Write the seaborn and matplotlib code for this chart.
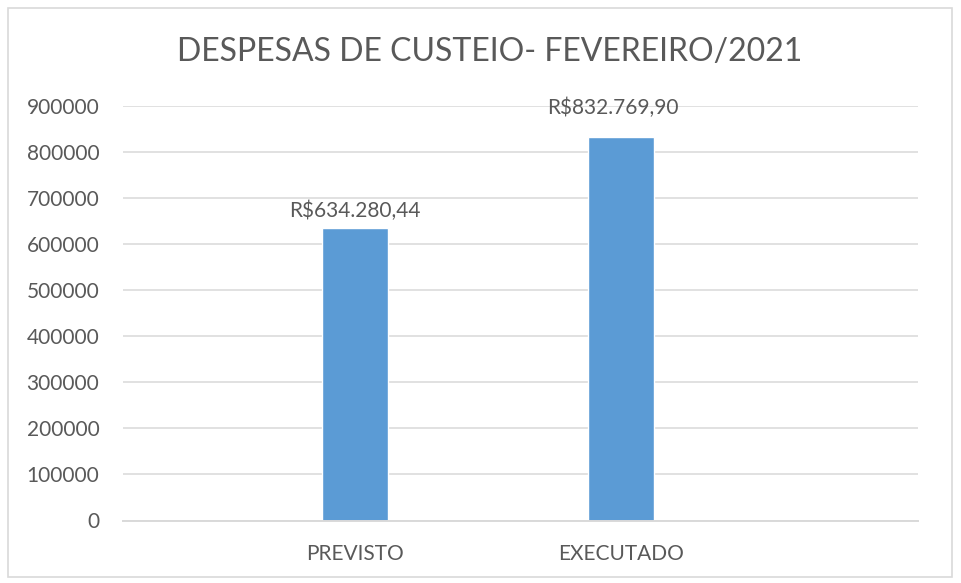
import matplotlib
matplotlib.use('Agg')
import matplotlib.pyplot as plt
import seaborn as sns
import pandas as pd
from matplotlib.patches import Rectangle

# Data
categorias = ['PREVISTO', 'EXECUTADO']
valores = [634280.44, 832769.90]
rotulos = ['R$634.280,44', 'R$832.769,90']
yticks = [0, 100000, 200000, 300000, 400000, 500000, 600000, 700000, 800000, 900000]

sns.set_style('white')
plt.rcParams['font.family'] = ['Lato', 'DejaVu Sans']

cinza_texto = '#595959'
cinza_linha = '#D9D9D9'
azul = '#5B9BD5'

df = pd.DataFrame({'categoria': categorias, 'valor': valores})

fig = plt.figure(figsize=(9.61, 5.83), dpi=100)
ax = fig.add_axes([123/961, 1 - 520.5/583, (918 - 123)/961, (520.5 - 105.5)/583])

sns.barplot(data=df, x='categoria', y='valor', color=azul, width=0.248,
            saturation=1, ax=ax, zorder=3)

ax.set_xlim(-0.872, 2.117)
ax.set_ylim(0, 900000)
ax.set_yticks(yticks)
ax.set_yticklabels([str(v) for v in yticks])
ax.set_xlabel('')
ax.set_ylabel('')

ax.yaxis.grid(True, color=cinza_linha, linewidth=1.1, zorder=0)
ax.set_axisbelow(True)
for s in ['top', 'right', 'left']:
    ax.spines[s].set_visible(False)
ax.spines['bottom'].set_color(cinza_linha)
ax.spines['bottom'].set_linewidth(1.4)
ax.spines['bottom'].set_zorder(4)

ax.tick_params(axis='y', length=0, pad=17, labelsize=15, labelcolor=cinza_texto)
ax.tick_params(axis='x', length=0, pad=17, labelsize=15, labelcolor=cinza_texto)

# data labels (positions slightly adjusted as in the original)
offsets = [(0, 17), (-8, 29)]
for i, (v, txt) in enumerate(zip(valores, rotulos)):
    ax.annotate(txt, xy=(i, v), xytext=offsets[i], textcoords='offset pixels',
                ha='center', va='center', fontsize=15, color=cinza_texto)

fig.text(490/961, 1 - 52/583, 'DESPESAS DE CUSTEIO- FEVEREIRO/2021',
         ha='center', va='center', fontsize=23, color=cinza_texto)

# chart border
fig.patches.append(Rectangle((8/961, 1 - 577/583), (952 - 8)/961, (577 - 8)/583,
                             transform=fig.transFigure, fill=False,
                             edgecolor=cinza_linha, linewidth=1.2))

fig.savefig('out.png', dpi=100)
plt.close(fig)
